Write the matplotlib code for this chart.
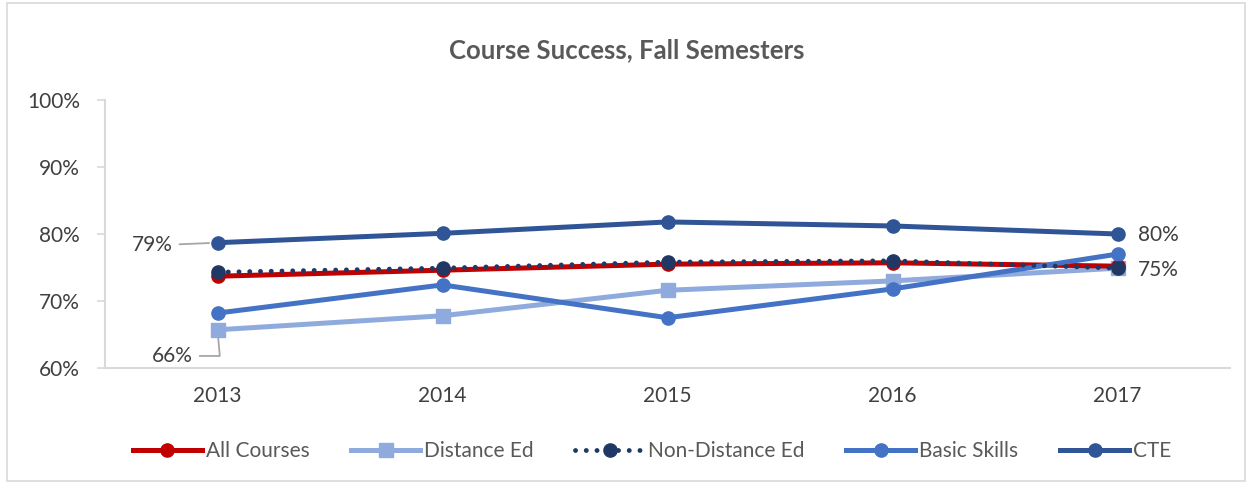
import matplotlib
matplotlib.use("Agg")
import matplotlib.pyplot as plt
from matplotlib.patches import Rectangle
from matplotlib.ticker import FuncFormatter

plt.rcParams['font.family'] = ['Lato', 'DejaVu Sans']

years = ["2013", "2014", "2015", "2016", "2017"]
all_courses = [73.7, 74.6, 75.5, 75.7, 75.2]
distance_ed = [65.7, 67.8, 71.6, 73.0, 74.9]
non_distance_ed = [74.3, 74.9, 75.8, 76.0, 74.9]
basic_skills = [68.2, 72.4, 67.5, 71.8, 77.0]
cte = [78.7, 80.1, 81.8, 81.2, 80.0]
yticks = [60, 70, 80, 90, 100]

fig = plt.figure(figsize=(12.54, 4.83), dpi=100)
ax = fig.add_axes([105/1254, 1-368/483, (1230-105)/1254, (368-100)/483])

x = list(range(len(years)))
lw = 3.6
ms = 9.5
ax.plot(x, all_courses, color='#C00000', lw=lw, marker='o', ms=ms, label='All Courses', zorder=3)
ax.plot(x, distance_ed, color='#8FAADC', lw=lw, marker='s', ms=ms, label='Distance Ed', zorder=2)
ax.plot(x, non_distance_ed, color='#203864', lw=3.5, ls=(0, (0.01, 2.2)), dash_capstyle='round',
        marker='o', ms=ms, label='Non-Distance Ed', zorder=4)
ax.plot(x, basic_skills, color='#4472C4', lw=lw, marker='o', ms=ms, label='Basic Skills', zorder=3)
ax.plot(x, cte, color='#2F5597', lw=lw, marker='o', ms=ms, label='CTE', zorder=3)

ax.set_xlim(-0.5, 4.5)
ax.set_ylim(60, 100)
ax.set_xticks(x)
ax.set_xticklabels(years)
ax.set_yticks(yticks)
ax.yaxis.set_major_formatter(FuncFormatter(lambda v, p: f"{v:.0f}%"))
ax.tick_params(axis='x', length=0, pad=13, labelsize=15, labelcolor='#404040')
ax.tick_params(axis='y', length=6, color='#D9D9D9', width=1.2, pad=12, labelsize=15, labelcolor='#404040')
for s in ['top', 'right']:
    ax.spines[s].set_visible(False)
for s in ['left', 'bottom']:
    ax.spines[s].set_color('#D9D9D9')
    ax.spines[s].set_linewidth(1.5)

# data labels with leader lines
lab_col = '#404040'
ax.annotate(f"{cte[0]:.0f}%", xy=(0, cte[0]), xytext=(-0.2, cte[0] - 0.4),
            ha='right', va='center', fontsize=15, color=lab_col,
            arrowprops=dict(arrowstyle='-', color='#A6A6A6', lw=1.3, shrinkA=3, shrinkB=6))
ax.annotate(f"{distance_ed[0]:.0f}%", xy=(0, distance_ed[0]), xytext=(-0.11, distance_ed[0] - 3.9),
            ha='right', va='center', fontsize=15, color=lab_col,
            arrowprops=dict(arrowstyle='-', color='#A6A6A6', lw=1.3, shrinkA=3, shrinkB=6,
                            connectionstyle='angle,angleA=0,angleB=95,rad=0'))
ax.text(4.09, cte[4] - 0.2, f"{cte[4]:.0f}%", ha='left', va='center', fontsize=15, color=lab_col)
ax.text(4.09, non_distance_ed[4] - 0.2, f"{non_distance_ed[4]:.0f}%", ha='left', va='center', fontsize=15, color=lab_col)

fig.text(0.5, 1 - 50/483, "Course Success, Fall Semesters", ha='center', va='center',
         fontsize=18.5, fontweight='bold', color='#595959')

leg = fig.legend(loc='center', bbox_to_anchor=(0.52, 1 - 451/483), ncol=5, frameon=False,
                 fontsize=15, handlelength=3.3, columnspacing=2.0, handletextpad=0.2)
for t in leg.get_texts():
    t.set_color('#595959')

fig.patches.append(Rectangle((7/1254, 2/483), 1238/1254, 478/483, transform=fig.transFigure,
                             fill=False, edgecolor='#D9D9D9', lw=1.2))

fig.savefig("out.png", dpi=100)
